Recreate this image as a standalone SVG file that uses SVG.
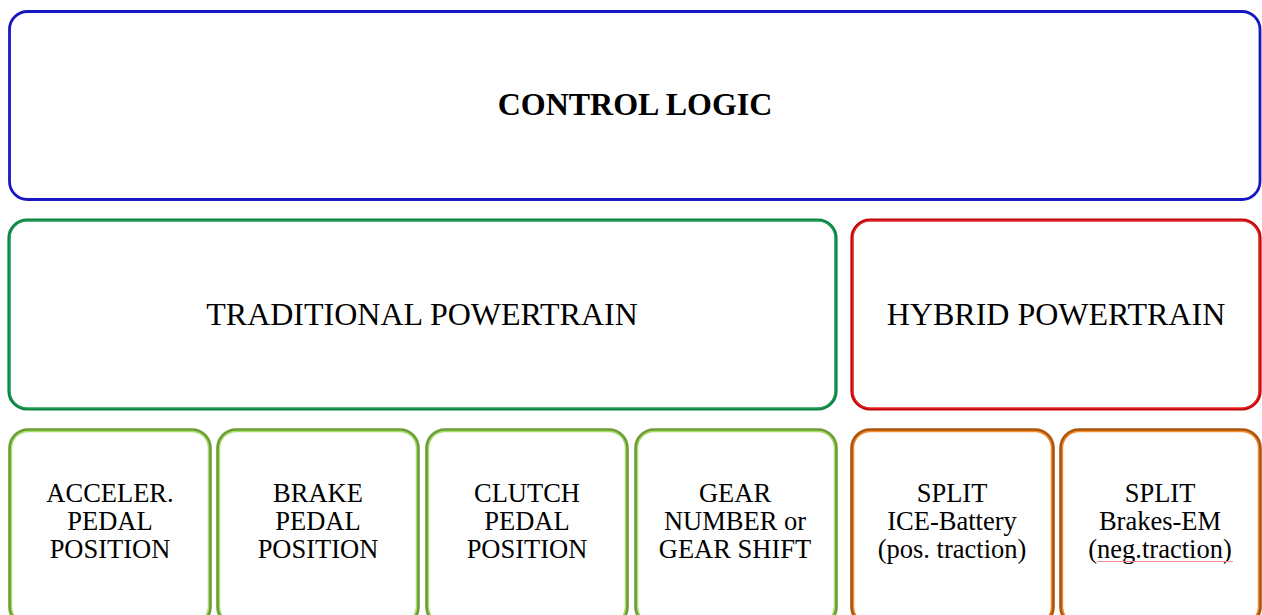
<svg xmlns="http://www.w3.org/2000/svg" width="1262" height="615" viewBox="0 0 1262 615">
  <style>
    .t { font-family: "Liberation Serif", "Times New Roman", serif; fill: #000; text-anchor: middle; }
    .big { font-size: 32px; }
    .bold { font-weight: bold; }
    .small { font-size: 26.5px; }
    .box { fill: #fff; }
    .blue { stroke: #1818c2; stroke-width: 2.8; }
    .green { stroke: #0e8446; stroke-width: 3.2; }
    .greenIn { fill: none; stroke: #2aa85a; stroke-width: 1; }
    .red { stroke: #c40606; stroke-width: 3.2; }
    .redIn { fill: none; stroke: #ee3a3a; stroke-width: 1; }
    .lg { stroke: #6b9e36; stroke-width: 3.6; }
    .lgIn { fill: none; stroke: #a8dc6a; stroke-width: 1.4; }
    .or { stroke: #ab560e; stroke-width: 3.6; }
    .orIn { fill: none; stroke: #f28c2c; stroke-width: 1.4; }
  </style>
  <rect width="1262" height="615" fill="#fff"/>

  <g id="control-logic">
    <rect class="box blue" x="9.5" y="11.5" width="1250.5" height="188" rx="18"/>
    <text class="t big bold" x="635" y="115">CONTROL LOGIC</text>
  </g>

  <g id="traditional-powertrain">
    <rect class="box green" x="9" y="220" width="827" height="189" rx="18"/>
    <rect class="greenIn" x="10" y="221" width="825" height="187" rx="17"/>
    <text class="t big" x="422" y="325">TRADITIONAL POWERTRAIN</text>
  </g>

  <g id="hybrid-powertrain">
    <rect class="box red" x="852" y="220" width="408" height="189" rx="18"/>
    <rect class="redIn" x="853" y="221" width="406" height="187" rx="17"/>
    <text class="t big" x="1056" y="325">HYBRID POWERTRAIN</text>
  </g>

  <g id="acceler-pedal">
    <rect class="box lg" x="10" y="430" width="200" height="195" rx="18"/>
    <rect class="lgIn" x="11.5" y="431.5" width="197" height="192" rx="16.5"/>
    <text class="t small" x="110" y="502">ACCELER.</text>
    <text class="t small" x="110" y="530">PEDAL</text>
    <text class="t small" x="110" y="558">POSITION</text>
  </g>

  <g id="brake-pedal">
    <rect class="box lg" x="218" y="430" width="200" height="195" rx="18"/>
    <rect class="lgIn" x="219.5" y="431.5" width="197" height="192" rx="16.5"/>
    <text class="t small" x="318" y="502">BRAKE</text>
    <text class="t small" x="318" y="530">PEDAL</text>
    <text class="t small" x="318" y="558">POSITION</text>
  </g>

  <g id="clutch-pedal">
    <rect class="box lg" x="427" y="430" width="200" height="195" rx="18"/>
    <rect class="lgIn" x="428.5" y="431.5" width="197" height="192" rx="16.5"/>
    <text class="t small" x="527" y="502">CLUTCH</text>
    <text class="t small" x="527" y="530">PEDAL</text>
    <text class="t small" x="527" y="558">POSITION</text>
  </g>

  <g id="gear-number">
    <rect class="box lg" x="636" y="430" width="200" height="195" rx="18"/>
    <rect class="lgIn" x="637.5" y="431.5" width="197" height="192" rx="16.5"/>
    <text class="t small" x="735" y="502">GEAR</text>
    <text class="t small" x="735" y="530">NUMBER or</text>
    <text class="t small" x="735" y="558">GEAR SHIFT</text>
  </g>

  <g id="split-ice-battery">
    <rect class="box or" x="852" y="430" width="201" height="195" rx="18"/>
    <rect class="orIn" x="853.5" y="431.5" width="198" height="192" rx="16.5"/>
    <text class="t small" x="952" y="502">SPLIT</text>
    <text class="t small" x="952" y="530">ICE-Battery</text>
    <text class="t small" x="952" y="558">(pos. traction)</text>
  </g>

  <g id="split-brakes-em">
    <rect class="box or" x="1061" y="430" width="199" height="195" rx="18"/>
    <rect class="orIn" x="1062.5" y="431.5" width="196" height="192" rx="16.5"/>
    <text class="t small" x="1160" y="502">SPLIT</text>
    <text class="t small" x="1160" y="530">Brakes-EM</text>
    <text class="t small" x="1160" y="558">(neg.traction)</text>
    <line x1="1097" y1="561.5" x2="1233" y2="561.5" stroke="#f28a8a" stroke-width="1"/>
  </g>

  <g id="connectors"/>
</svg>
